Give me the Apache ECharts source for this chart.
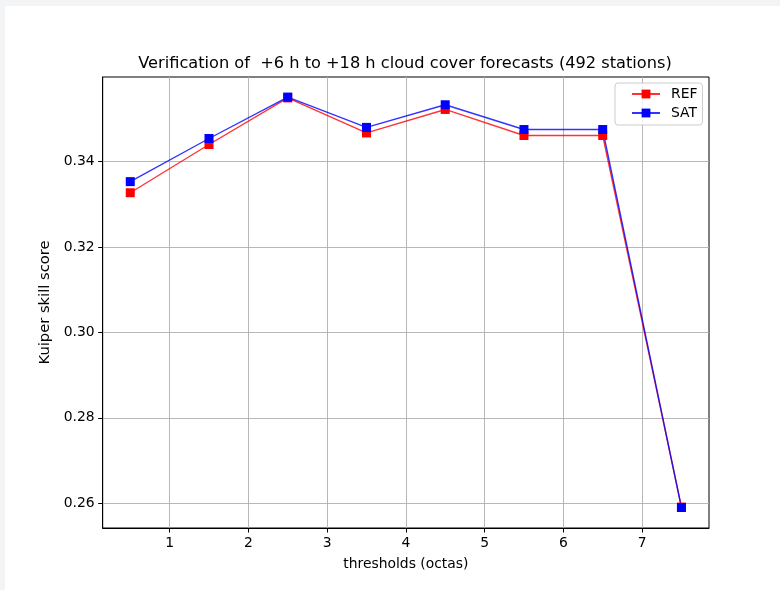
<!DOCTYPE html>
<html>
<head>
<meta charset="utf-8">
<script src="https://cdn.jsdelivr.net/npm/echarts@6/dist/echarts.min.js"></script>
<style>
html,body{margin:0;padding:0;background:#f3f4f6;}
#frame{position:absolute;left:5px;top:6px;width:775px;height:584px;background:#ffffff;}
#chart{position:absolute;left:0;top:0;width:780px;height:590px;}
</style>
</head>
<body>
<div id="frame"></div>
<div id="chart"></div>
<script>
const thresholds = [0.5, 1.5, 2.5, 3.5, 4.5, 5.5, 6.5, 7.5];
const refScores = [0.3327, 0.3440, 0.3549, 0.3467, 0.3522, 0.3461, 0.3461, 0.2591];
const satScores = [0.3353, 0.3454, 0.3551, 0.3480, 0.3533, 0.3475, 0.3475, 0.2590];
const xTicks = [1, 2, 3, 4, 5, 6, 7];
const yTicks = [0.26, 0.28, 0.30, 0.32, 0.34];
const titleText = 'Verification of  +6 h to +18 h cloud cover forecasts (492 stations)';

const font = 'DejaVu Sans';
const chart = echarts.init(document.getElementById('chart'), null, {renderer: 'canvas'});
const pair = (xs, ys) => xs.map((x, i) => [x, ys[i]]);

const gridLineStyle = {color: '#b0b0b0', width: 0.9};
chart.setOption({
  backgroundColor: 'transparent',
  animation: false,
  title: {
    text: titleText, left: 400, top: 51, textAlign: 'center',
    textStyle: {fontFamily: font, fontSize: 16.2, fontWeight: 'normal', color: '#000'}
  },
  grid: {left: 102.7, top: 77, right: 71, bottom: 62, containLabel: false,
         show: true, borderColor: '#000', borderWidth: 1},
  legend: {
    orient: 'vertical', left: 615, top: 83,
    padding: [4, 5, 5, 16], itemGap: 5, itemWidth: 28, itemHeight: 11,
    backgroundColor: 'rgba(255,255,255,0.8)', borderColor: '#cccccc', borderWidth: 1, borderRadius: 3,
    textStyle: {fontFamily: font, fontSize: 13.9, color: '#000', padding: [0, 0, 0, 6]},
    data: ['REF', 'SAT']
  },
  xAxis: {
    type: 'value', min: 0.15, max: 7.85,
    name: 'thresholds (octas)', nameLocation: 'middle', nameGap: 29,
    nameTextStyle: {fontFamily: font, fontSize: 13.9, color: '#000'},
    axisLine: {show: true, onZero: false, lineStyle: {color: '#000', width: 1}},
    axisTick: {show: true, length: 4.5, customValues: xTicks, lineStyle: {color: '#000', width: 1}},
    axisLabel: {customValues: xTicks, fontFamily: font, fontSize: 13.9, color: '#000', margin: 8},
    splitLine: {show: true, customValues: xTicks, lineStyle: gridLineStyle}
  },
  yAxis: {
    type: 'value', min: 0.2542, max: 0.3598,
    name: 'Kuiper skill score', nameLocation: 'middle', nameGap: 44,
    nameTextStyle: {fontFamily: font, fontSize: 14.7, color: '#000'},
    axisLine: {show: true, onZero: false, lineStyle: {color: '#000', width: 1}},
    axisTick: {show: true, length: 4.5, customValues: yTicks, lineStyle: {color: '#000', width: 1}},
    axisLabel: {customValues: yTicks, fontFamily: font, fontSize: 13.9, color: '#000', margin: 8,
                formatter: v => v.toFixed(2)},
    splitLine: {show: true, customValues: yTicks, lineStyle: gridLineStyle}
  },
  series: [
    {
      name: 'REF', type: 'line', data: pair(thresholds, refScores),
      symbol: 'rect', symbolSize: 9, showAllSymbol: true,
      itemStyle: {color: '#ff0000'},
      lineStyle: {color: 'rgba(255,0,0,0.8)', width: 1.4}
    },
    {
      name: 'SAT', type: 'line', data: pair(thresholds, satScores),
      symbol: 'rect', symbolSize: 9, showAllSymbol: true,
      itemStyle: {color: '#0000ff'},
      lineStyle: {color: 'rgba(0,0,255,0.8)', width: 1.4}
    }
  ]
});
</script>
</body>
</html>
